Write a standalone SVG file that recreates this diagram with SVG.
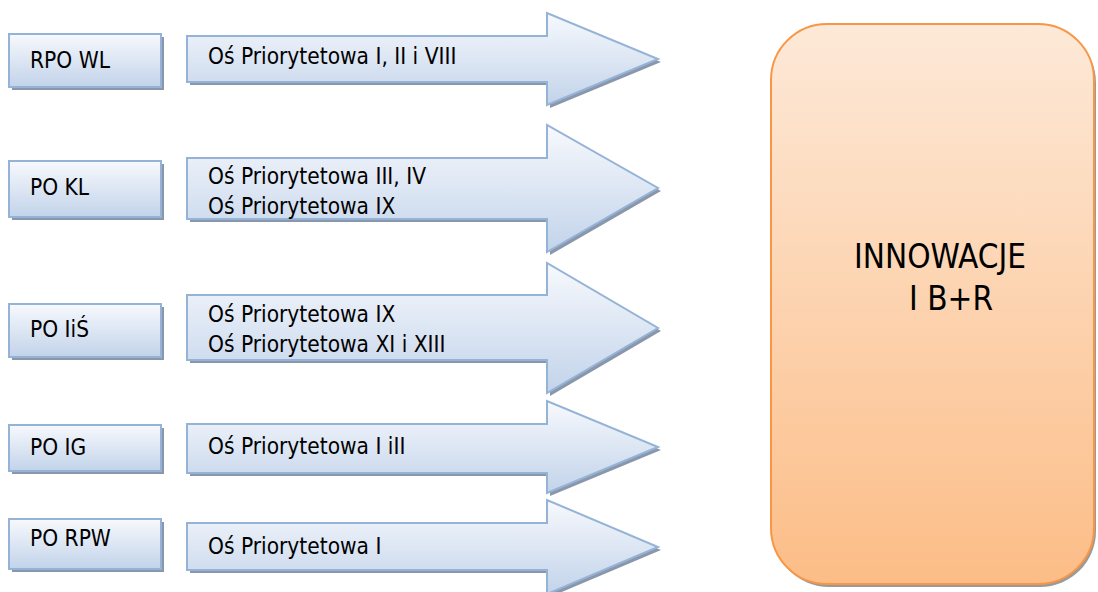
<svg xmlns="http://www.w3.org/2000/svg" width="1098" height="592" viewBox="0 0 1098 592">
<defs>
<linearGradient id="gBlue" x1="0" y1="0" x2="0" y2="1">
<stop offset="0" stop-color="#f7f9fd"/>
<stop offset="1" stop-color="#c2d3ea"/>
</linearGradient>
<linearGradient id="gOrange" x1="0" y1="0" x2="0" y2="1">
<stop offset="0" stop-color="#fde9d8"/>
<stop offset="1" stop-color="#fcbd87"/>
</linearGradient>
<style>
.box{fill:url(#gBlue);stroke:#95b3d7;stroke-width:2}
.shadow{fill:#8a97ab;stroke:none}
.arr{fill:url(#gBlue);stroke:#95b3d7;stroke-width:2;stroke-linejoin:miter}
.t{font-family:"DejaVu Sans Condensed","DejaVu Sans",sans-serif;font-stretch:condensed;font-size:22.5px;fill:#000}
.big{font-family:"DejaVu Sans Condensed","DejaVu Sans",sans-serif;font-stretch:condensed;font-size:33px;fill:#000;text-anchor:middle}
</style>
</defs>
<rect width="1098" height="592" fill="#fff"/>

<g id="connectors">
<g id="arrow1">
<path class="shadow" d="M190,39 L550,39 L550,16 L661,62 L550,108 L550,85 L190,85 Z"/>
<path class="arr" d="M187,36 L547,36 L547,13 L658,59 L547,105 L547,82 L187,82 Z"/>
<text class="t" x="208" y="64">Oś Priorytetowa I, II i VIII</text>
</g>
<g id="arrow2">
<path class="shadow" d="M190,161 L550,161 L550,128 L661,191 L550,255 L550,222 L190,222 Z"/>
<path class="arr" d="M187,158 L547,158 L547,125 L658,188 L547,252 L547,219 L187,219 Z"/>
<text class="t" x="208" y="184">Oś Priorytetowa III, IV</text>
<text class="t" x="208" y="214">Oś Priorytetowa IX</text>
</g>
<g id="arrow3">
<path class="shadow" d="M190,298 L550,298 L550,266 L661,331 L550,396 L550,363 L190,363 Z"/>
<path class="arr" d="M187,295 L547,295 L547,263 L658,328 L547,393 L547,360 L187,360 Z"/>
<text class="t" x="208" y="322">Oś Priorytetowa IX</text>
<text class="t" x="208" y="352">Oś Priorytetowa XI i XIII</text>
</g>
<g id="arrow4">
<path class="shadow" d="M190,427 L550,427 L550,404 L661,450 L550,496 L550,476 L190,476 Z"/>
<path class="arr" d="M187,424 L547,424 L547,401 L658,447 L547,493 L547,473 L187,473 Z"/>
<text class="t" x="208" y="454">Oś Priorytetowa I iII</text>
</g>
<g id="arrow5">
<path class="shadow" d="M190,526 L550,526 L550,503 L661,550 L550,597 L550,573 L190,573 Z"/>
<path class="arr" d="M187,523 L547,523 L547,500 L658,547 L547,594 L547,570 L187,570 Z"/>
<text class="t" x="208" y="554">Oś Priorytetowa I</text>
</g>
</g>

<g id="rpo-wl">
<rect class="shadow" x="12" y="37" width="152" height="53"/>
<rect class="box" x="9" y="34" width="152" height="53"/>
<text class="t" x="30" y="68">RPO WL</text>
</g>
<g id="po-kl">
<rect class="shadow" x="12" y="164" width="152" height="56"/>
<rect class="box" x="9" y="161" width="152" height="56"/>
<text class="t" x="30" y="195">PO KL</text>
</g>
<g id="po-iis">
<rect class="shadow" x="12" y="307" width="152" height="53"/>
<rect class="box" x="9" y="304" width="152" height="53"/>
<text class="t" x="30" y="337">PO IiŚ</text>
</g>
<g id="po-ig">
<rect class="shadow" x="12" y="428" width="152" height="46"/>
<rect class="box" x="9" y="425" width="152" height="46"/>
<text class="t" x="30" y="455">PO IG</text>
</g>
<g id="po-rpw">
<rect class="shadow" x="12" y="522" width="152" height="50"/>
<rect class="box" x="9" y="519" width="152" height="50"/>
<text class="t" x="30" y="546">PO RPW</text>
</g>

<g id="innowacje">
<rect x="773" y="27" width="323" height="560" rx="56" ry="56" fill="#9a9a9a"/>
<rect x="771" y="24" width="323" height="560" rx="56" ry="56" fill="url(#gOrange)" stroke="#f79646" stroke-width="2"/>
<text class="big" x="940" y="268">INNOWACJE</text>
<text class="big" x="951" y="310">I B+R</text>
</g>
</svg>
